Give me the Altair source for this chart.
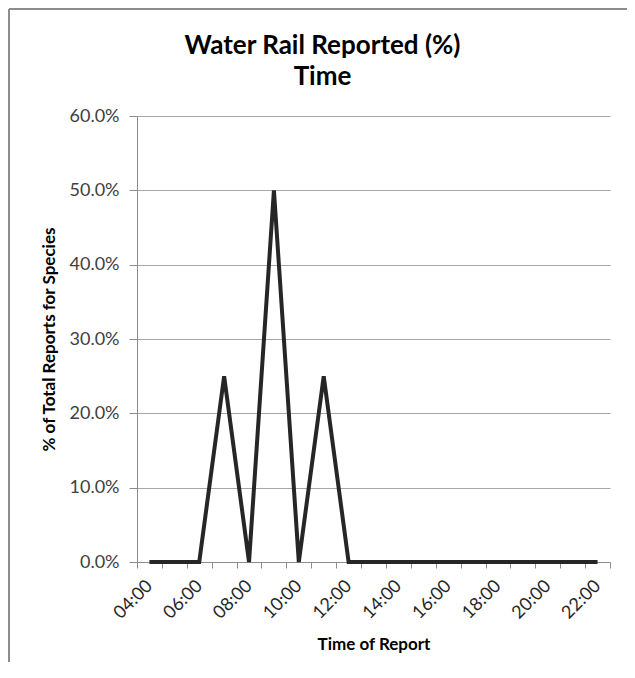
import altair as alt
import pandas as pd

times = ["04:00", "05:00", "06:00", "07:00", "08:00", "09:00", "10:00", "11:00",
         "12:00", "13:00", "14:00", "15:00", "16:00", "17:00", "18:00", "19:00",
         "20:00", "21:00", "22:00"]
values = [0.0, 0.0, 0.0, 0.25, 0.0, 0.50, 0.0, 0.25,
          0.0, 0.0, 0.0, 0.0, 0.0, 0.0, 0.0, 0.0,
          0.0, 0.0, 0.0]
shown_labels = ["04:00", "06:00", "08:00", "10:00", "12:00", "14:00",
                "16:00", "18:00", "20:00", "22:00"]

df = pd.DataFrame({"time": times, "pct": values})

FONT = "Lato"
label_expr = "indexof([" + ",".join("'%s'" % s for s in shown_labels) + "], datum.value) >= 0 ? datum.label : ''"

line = alt.Chart(df).mark_line(color="#262626", strokeWidth=4).encode(
    x=alt.X("time:N", sort=times,
            scale=alt.Scale(type="band", paddingInner=0, paddingOuter=0),
            axis=alt.Axis(title="Time of Report", labelAngle=-45, labelAlign="right",
                          labelBaseline="middle", labelExpr=label_expr,
                          tickBand="extent",
                          tickSize=6, tickColor="#8c8c8c",
                          domainColor="#8c8c8c", labelColor="#262626", labelFontSize=18,
                          labelFont=FONT, titleFont=FONT, titleFontSize=17,
                          titleFontWeight="bold", titleColor="#000000", titlePadding=14,
                          labelPadding=15, grid=False, labelOverlap=False)),
    y=alt.Y("pct:Q", scale=alt.Scale(domain=[0, 0.6]),
            axis=alt.Axis(title="% of Total Reports for Species", format=".1%",
                          values=[0, 0.1, 0.2, 0.3, 0.4, 0.5, 0.6],
                          tickSize=8, tickColor="#8c8c8c", domainColor="#8c8c8c",
                          gridColor="#a6a6a6", gridWidth=1, labelColor="#404040",
                          labelFontSize=18, labelFont=FONT, labelPadding=10,
                          titleFont=FONT, titleFontSize=17, titleFontWeight="bold",
                          titleColor="#000000", titlePadding=11)),
)

frame_data = alt.Data(values=[{"k": 0}])
border_left = alt.Chart(frame_data).mark_rule(color="#8c8c8c", strokeWidth=2).encode(
    x=alt.value(-128), y=alt.value(-107), y2=alt.value(640))
border_top = alt.Chart(frame_data).mark_rule(color="#8c8c8c", strokeWidth=2).encode(
    x=alt.value(-128), x2=alt.value(540), y=alt.value(-107))

chart = alt.layer(border_left, border_top, line).properties(
    width=473, height=446,
    title=alt.TitleParams(text=["Water Rail Reported (%)", "Time"], font=FONT,
                          fontSize=26, fontWeight="bold", color="#000000",
                          anchor="middle", dx=-51, dy=100, offset=18, lineHeight=31),
    padding={"left": 129, "top": 108, "right": 17, "bottom": 100},
    autosize="none",
).configure_view(stroke=None)

chart.save("out.html", embed_options={"renderer": "svg", "actions": False})
